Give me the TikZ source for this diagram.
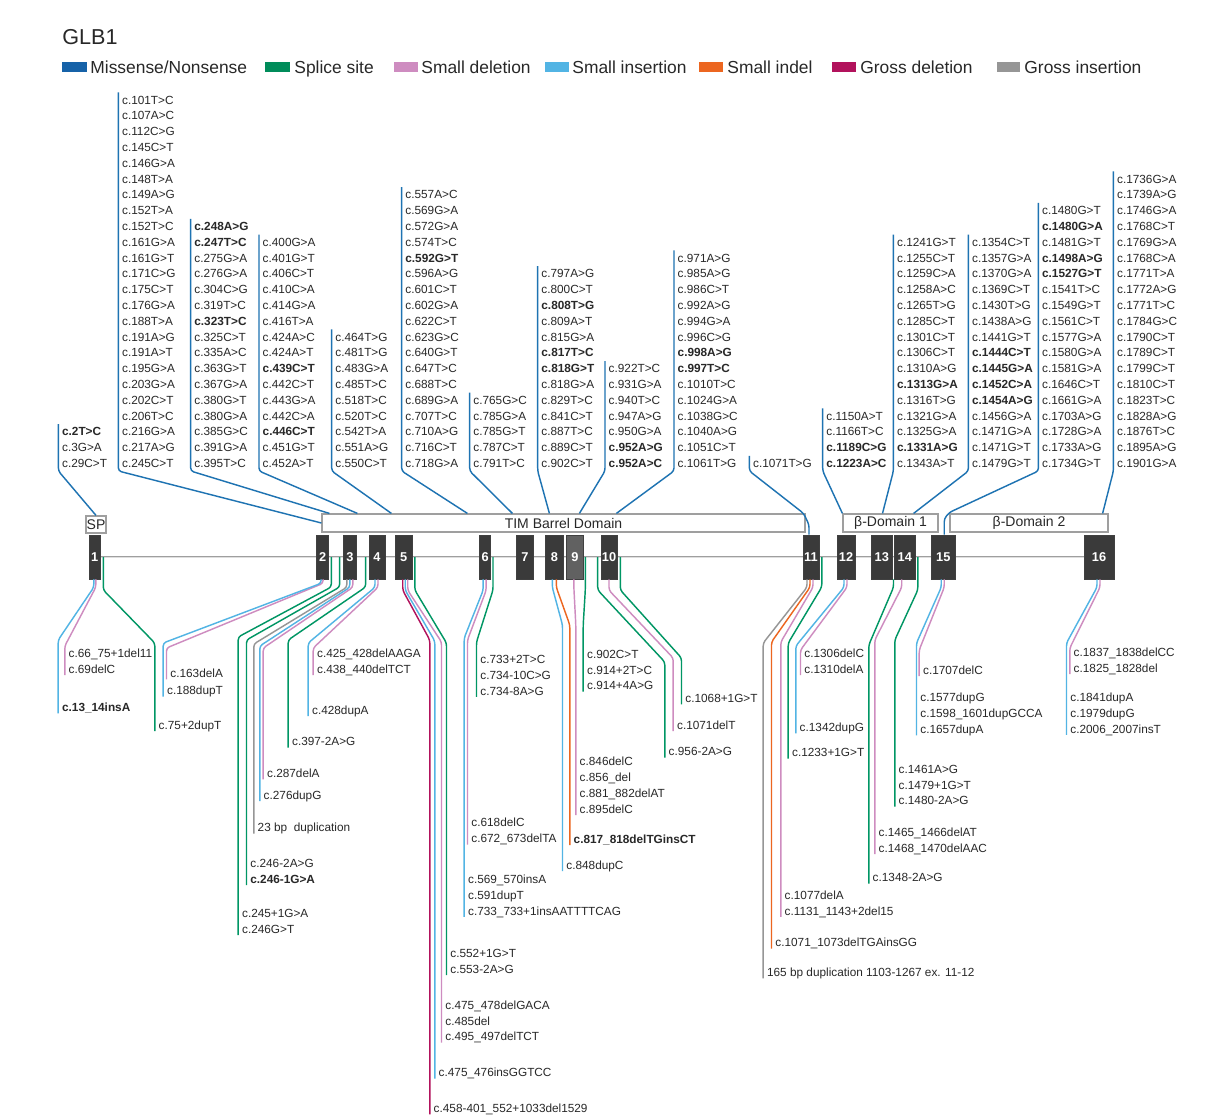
\documentclass[tikz,border=0pt]{standalone}
\usepackage{fontspec}
\setmainfont{Liberation Sans}
\usetikzlibrary{calc}
\definecolor{miss}{RGB}{30,115,178}
\definecolor{missL}{RGB}{22,98,168}
\definecolor{splice}{RGB}{0,150,100}
\definecolor{spliceL}{RGB}{0,140,90}
\definecolor{sdel}{RGB}{206,140,192}
\definecolor{sins}{RGB}{82,180,228}
\definecolor{sindel}{RGB}{236,102,32}
\definecolor{gdel}{RGB}{178,18,92}
\definecolor{gins}{RGB}{150,150,150}
\definecolor{exfill}{RGB}{58,58,58}
\definecolor{txt}{RGB}{40,40,40}

\newcommand\topcol[4]{%
  \foreach \mytext [count=\i] in {#4} {\node[lbl] (#1\i) at (#2,{467.5-(#3-\i)*15.8}) {\mytext};}
  \coordinate (#1t) at (#2-3.3,{463.3-(#3-1)*15.8-7.5});
  \coordinate (#1b) at (#2-3.3,471);
}
\newcommand\botcol[9]{%
  \foreach \mytext [count=\i] in {#9} {\node[lbl] (#1\i) at (#3,{#4+4.2+(\i-1)*15.8}) {\mytext};}
  \coordinate (#1s) at #6;
  \coordinate (#1k) at (#3-3.5,#8);
  \coordinate (#1e) at (#3-3.5,{#4+(#5-1)*15.8+6});
  \draw[conn,#2] (#1s) -- ++(0,#7) -- (#1k) -- (#1e);
}
\newcommand\exon[4][]{\node[exon,#1,minimum width={(#4-#3)*0.5pt}] (e#2) at ({(#3+#4)/2},557) {#2};}

\begin{document}
\begin{tikzpicture}[x=0.5pt,y=-0.5pt,
  lbl/.style={anchor=base west, inner sep=0pt, text=txt, font=\fontsize{5.9}{7}\selectfont},
  leg/.style={anchor=base west, inner sep=0pt, text=txt, font=\fontsize{8.7}{10}\selectfont},
  swatch/.style={inner sep=0pt, minimum height=5pt},
  conn/.style={line width=0.72pt, rounded corners=1.5pt},
  exon/.style={fill=exfill, draw=black!75, line width=0.3pt, text=white, inner sep=0pt, minimum height=22pt, font=\bfseries\fontsize{6.4}{7}\selectfont},
  dom/.style={draw=gray!75, fill=white, line width=0.6pt, inner sep=0pt, minimum height=9pt, text=txt, font=\fontsize{7}{8}\selectfont},
  intron/.style={draw=gray!75, line width=0.35pt, double=gray!25, double distance=0.45pt}
]
\useasboundingbox (0,0) rectangle (1208,1117);
\fill[white] (0,0) rectangle (1208,1117);

% title and legend
\node[anchor=base west, inner sep=0pt, text=txt, font=\fontsize{10.8}{12}\selectfont] (title) at (62,44.7) {GLB1};
\node[swatch, fill=missL, minimum width=12.5pt] (s1) at (74.5,67) {};
\node[leg] (l1) at (90,73.2) {Missense/Nonsense};
\node[swatch, fill=spliceL, minimum width=12.5pt] (s2) at (277.5,67) {};
\node[leg] (l2) at (294,73.2) {Splice site};
\node[swatch, fill=sdel, minimum width=12pt] (s3) at (406,67) {};
\node[leg] (l3) at (421,73.2) {Small deletion};
\node[swatch, fill=sins, minimum width=12pt] (s4) at (557,67) {};
\node[leg] (l4) at (572,73.2) {Small insertion};
\node[swatch, fill=sindel, minimum width=12pt] (s5) at (711,67) {};
\node[leg] (l5) at (727,73.2) {Small indel};
\node[swatch, fill=gdel, minimum width=12pt] (s6) at (844,67) {};
\node[leg] (l6) at (860,73.2) {Gross deletion};
\node[swatch, fill=gins, minimum width=11.5pt] (s7) at (1008.5,67) {};
\node[leg] (l7) at (1024,73.2) {Gross insertion};

% gene
\coordinate (i0) at (95,557);
\coordinate (i1) at (1099,557);
\draw[intron] (i0) -- (i1);
\exon{1}{89.6}{100}
\exon{2}{316.7}{328.5}
\exon{3}{343}{356.7}
\exon{4}{369}{385}
\exon{5}{395.5}{412}
\exon{6}{479.6}{490.7}
\exon{7}{516.7}{533}
\exon{8}{545.6}{563}
\exon[fill=exfill!80!white]{9}{566.7}{583}
\exon{10}{601}{617}
\exon{11}{803}{819}
\exon{12}{837}{855}
\exon{13}{871.6}{892}
\exon{14}{894.5}{915}
\exon{15}{931.5}{955}
\exon{16}{1084}{1114}

% domains
\node[dom, minimum width=241.5pt] (tim) at (563.5,523) {TIM Barrel Domain};
\node[dom, minimum width=47.5pt] (b1) at (890.5,523) {β-Domain 1};
\node[dom, minimum width=79pt] (b2) at (1029,523) {β-Domain 2};
\node[dom, minimum width=10pt, minimum height=8.5pt] (SP) at (96,524.5) {SP};

% top columns (missense / nonsense)
\topcol{A}{61.7}{3}{\textbf{c.2T>C}, c.3G>A, c.29C>T}
\topcol{B}{121.7}{24}{c.101T>C, c.107A>C, c.112C>G, c.145C>T, c.146G>A, c.148T>A, c.149A>G, c.152T>A, c.152T>C, c.161G>A, c.161G>T, c.171C>G, c.175C>T, c.176G>A, c.188T>A, c.191A>G, c.191A>T, c.195G>A, c.203G>A, c.202C>T, c.206T>C, c.216G>A, c.217A>G, c.245C>T}
\topcol{C}{194}{16}{\textbf{c.248A>G}, \textbf{c.247T>C}, c.275G>A, c.276G>A, c.304C>G, c.319T>C, \textbf{c.323T>C}, c.325C>T, c.335A>C, c.363G>T, c.367G>A, c.380G>T, c.380G>A, c.385G>C, c.391G>A, c.395T>C}
\topcol{D}{262.3}{15}{c.400G>A, c.401G>T, c.406C>T, c.410C>A, c.414G>A, c.416T>A, c.424A>C, c.424A>T, \textbf{c.439C>T}, c.442C>T, c.443G>A, c.442C>A, \textbf{c.446C>T}, c.451G>T, c.452A>T}
\topcol{E}{335}{9}{c.464T>G, c.481T>G, c.483G>A, c.485T>C, c.518T>C, c.520T>C, c.542T>A, c.551A>G, c.550C>T}
\topcol{F}{405}{18}{c.557A>C, c.569G>A, c.572G>A, c.574T>C, \textbf{c.592G>T}, c.596A>G, c.601C>T, c.602G>A, c.622C>T, c.623G>C, c.640G>T, c.647T>C, c.688T>C, c.689G>A, c.707T>C, c.710A>G, c.716C>T, c.718G>A}
\topcol{G}{473}{5}{c.765G>C, c.785G>A, c.785G>T, c.787C>T, c.791T>C}
\topcol{H}{541}{13}{c.797A>G, c.800C>T, \textbf{c.808T>G}, c.809A>T, c.815G>A, \textbf{c.817T>C}, \textbf{c.818G>T}, c.818G>A, c.829T>C, c.841C>T, c.887T>C, c.889C>T, c.902C>T}
\topcol{I}{608.3}{7}{c.922T>C, c.931G>A, c.940T>C, c.947A>G, c.950G>A, \textbf{c.952A>G}, \textbf{c.952A>C}}
\topcol{J}{677.3}{14}{c.971A>G, c.985A>G, c.986C>T, c.992A>G, c.994G>A, c.996C>G, \textbf{c.998A>G}, \textbf{c.997T>C}, c.1010T>C, c.1024G>A, c.1038G>C, c.1040A>G, c.1051C>T, c.1061T>G}
\topcol{K}{752.7}{1}{c.1071T>G}
\topcol{L}{826}{4}{c.1150A>T, c.1166T>C, \textbf{c.1189C>G}, \textbf{c.1223A>C}}
\topcol{M}{896.7}{15}{c.1241G>T, c.1255C>T, c.1259C>A, c.1258A>C, c.1265T>G, c.1285C>T, c.1301C>T, c.1306C>T, c.1310A>G, \textbf{c.1313G>A}, c.1316T>G, c.1321G>A, c.1325G>A, \textbf{c.1331A>G}, c.1343A>T}
\topcol{N}{971.7}{15}{c.1354C>T, c.1357G>A, c.1370G>A, c.1369C>T, c.1430T>G, c.1438A>G, c.1441G>T, \textbf{c.1444C>T}, \textbf{c.1445G>A}, \textbf{c.1452C>A}, \textbf{c.1454A>G}, c.1456G>A, c.1471G>A, c.1471G>T, c.1479G>T}
\topcol{O}{1041.7}{17}{c.1480G>T, \textbf{c.1480G>A}, c.1481G>T, \textbf{c.1498A>G}, \textbf{c.1527G>T}, c.1541T>C, c.1549G>T, c.1561C>T, c.1577G>A, c.1580G>A, c.1581G>A, c.1646C>T, c.1661G>A, c.1703A>G, c.1728G>A, c.1733A>G, c.1734G>T}
\topcol{P}{1116.7}{19}{c.1736G>A, c.1739A>G, c.1746G>A, c.1768C>T, c.1769G>A, c.1768C>A, c.1771T>A, c.1772A>G, c.1771T>C, c.1784G>C, c.1790C>T, c.1789C>T, c.1799C>T, c.1810C>T, c.1823T>C, c.1828A>G, c.1876T>C, c.1895A>G, c.1901G>A}

\draw[conn,miss] (At) -- (Ab) -- (SP.north);
\draw[conn,miss] (Bt) -- (Bb) -- (tim.west);
\draw[conn,miss] (Ct) -- (Cb) -- ($(tim.north west)+(8,0)$);
\draw[conn,miss] (Dt) -- (Db) -- ($(tim.north west)+(36,0)$);
\draw[conn,miss] (Et) -- (Eb) -- ($(tim.north west)+(70,0)$);
\draw[conn,miss] (Ft) -- (Fb) -- ($(tim.north west)+(146,0)$);
\draw[conn,miss] (Gt) -- (Gb) -- ($(tim.north west)+(191,0)$);
\draw[conn,miss] (Ht) -- (Hb) -- ($(tim.north west)+(228,0)$);
\draw[conn,miss] (It) -- (Ib) -- ($(tim.north west)+(258,0)$);
\draw[conn,miss] (Jt) -- (Jb) -- ($(tim.north west)+(295,0)$);
\draw[conn,miss] (Kt) -- (Kb) -- ($(tim.north east)+(-2,0)$) -- ($(e11.north)+(-2,-10)$) -- ($(e11.north)+(-2,0)$);
\draw[conn,miss] (Lt) -- (Lb) -- (b1.north west);
\draw[conn,miss] (Mt) -- (Mb) -- ($(b1.north)+(-8,0)$);
\draw[conn,miss] (Nt) -- (Nb) -- ($(b1.north east)+(-25,0)$);
\draw[conn,miss] (Ot) -- (Ob) -- ($(b2.north west)+(0,-1)$) -- ($(e15.north)+(1,-16)$) -- ($(e15.north)+(1,0)$);
\draw[conn,miss] (Pt) -- (Pb) -- ($(b2.north east)+(-6,0)$);

% bottom columns
\botcol{ba}{sdel}{68.3}{653.3}{2}{($(e1.south)+(1,0)$)}{8}{646}{c.66\_75+1del11, c.69delC}
\botcol{bb}{sins}{61.7}{707.3}{1}{($(e1.south)+(-1,0)$)}{8}{640}{\textbf{c.13\_14insA}}
\botcol{bc}{splice}{158.3}{725}{1}{($(e1.east)+(3,0)$)}{33}{643}{c.75+2dupT}
\botcol{bd}{sdel}{170}{673.3}{1}{($(e2.south)+(0.5,0)$)}{4}{648}{c.163delA}
\botcol{be}{sins}{166.7}{690.7}{1}{($(e2.south)+(-1.5,0)$)}{4}{643}{c.188dupT}
\botcol{bf}{splice}{241.7}{913.3}{2}{($(e2.east)+(2.5,0)$)}{30}{637}{c.245+1G>A, c.246G>T}
\botcol{bg}{splice}{250}{863.3}{2}{($(e3.west)+(-3,0)$)}{30}{640}{c.246-2A>G, \textbf{c.246-1G>A}}
\botcol{bh}{gins}{257.3}{827.7}{1}{($(e3.south)+(-3,0)$)}{8}{644}{23 bp\ \ duplication}
\botcol{bi}{sins}{263.3}{795}{1}{($(e3.south)+(0,0)$)}{8}{646}{c.276dupG}
\botcol{bj}{sdel}{266.7}{773.3}{1}{($(e3.south)+(3,0)$)}{8}{648}{c.287delA}
\botcol{bk}{splice}{291.7}{741.7}{1}{($(e4.west)+(-3,0)$)}{30}{640}{c.397-2A>G}
\botcol{bl}{sins}{311.7}{710}{1}{($(e4.south)+(-2,0)$)}{8}{643}{c.428dupA}
\botcol{bm}{sdel}{316.7}{653.3}{2}{($(e4.south)+(1,0)$)}{8}{648}{c.425\_428delAAGA, c.438\_440delTCT}
\botcol{bn}{gdel}{433.3}{1108.3}{1}{($(e5.south)+(-1,0)$)}{11}{640}{c.458-401\_552+1033del1529}
\botcol{bo}{sins}{438.3}{1072.7}{1}{($(e5.south)+(1.5,0)$)}{11}{641}{c.475\_476insGGTCC}
\botcol{bp}{sdel}{445}{1005}{3}{($(e5.south)+(4,0)$)}{11}{642}{c.475\_478delGACA, c.485del, c.495\_497delTCT}
\botcol{bq}{splice}{450}{953.3}{2}{($(e5.east)+(2.5,0)$)}{33}{643}{c.552+1G>T, c.553-2A>G}
\botcol{br}{sins}{467.7}{879.3}{3}{($(e6.south)+(-2,0)$)}{11}{638}{c.569\_570insA, c.591dupT, c.733\_733+1insAATTTTCAG}
\botcol{bs}{sdel}{471}{822.7}{2}{($(e6.south)+(1,0)$)}{11}{640}{c.618delC, c.672\_673delTA}
\botcol{bt}{splice}{480}{659.3}{3}{($(e6.east)+(2,0)$)}{33}{642}{c.733+2T>C, c.734-10C>G, c.734-8A>G}
\botcol{bu}{sins}{566}{865}{1}{($(e8.south)+(-2,0)$)}{8}{625}{c.848dupC}
\botcol{bv}{sindel}{573.3}{839}{1}{($(e8.south)+(2,0)$)}{8}{625}{\textbf{c.817\_818delTGinsCT}}
\botcol{bw}{sdel}{579.3}{761.7}{4}{($(e9.south)+(-1,0)$)}{8}{625}{c.846delC, c.856\_del, c.881\_882delAT, c.895delC}
\botcol{bx}{splice}{586.7}{654}{3}{($(e9.east)+(2,0)$)}{33}{625}{c.902C>T, c.914+2T>C, c.914+4A>G}
\botcol{by}{splice}{668.3}{751.7}{1}{($(e10.west)+(-3,0)$)}{33}{662}{c.956-2A>G}
\botcol{bz}{sdel}{676.7}{725}{1}{($(e10.south)+(0,0)$)}{11}{658}{c.1071delT}
\botcol{ca}{splice}{685}{698.3}{1}{($(e10.east)+(3,0)$)}{33}{658}{c.1068+1G>T}
\botcol{cb}{gins}{766.7}{972.3}{1}{($(e11.south)+(-4,0)$)}{8}{643}{165 bp duplication 1103-1267 ex. 11-12}
\botcol{cc}{sindel}{775}{942.7}{1}{($(e11.south)+(-1,0)$)}{8}{642}{c.1071\_1073delTGAinsGG}
\botcol{cd}{sdel}{784.3}{895}{2}{($(e11.south)+(2,0)$)}{8}{642}{c.1077delA, c.1131\_1143+2del15}
\botcol{ce}{splice}{791.7}{752.7}{1}{($(e11.east)+(2.5,0)$)}{30}{643}{c.1233+1G>T}
\botcol{cf}{sins}{799.3}{727.3}{1}{($(e12.south)+(-2,0)$)}{8}{646}{c.1342dupG}
\botcol{cg}{sdel}{804}{653.3}{2}{($(e12.south)+(1,0)$)}{8}{650}{c.1306delC, c.1310delA}
\botcol{ch}{splice}{872.3}{877.7}{1}{($(e13.south east)+(1.2,0)$)}{8}{645}{c.1348-2A>G}
\botcol{ci}{sdel}{878.3}{832.3}{2}{($(e14.south)+(-3,0)$)}{8}{640}{c.1465\_1466delAT, c.1468\_1470delAAC}
\botcol{cj}{splice}{898.3}{769}{3}{($(e14.east)+(2.5,0)$)}{33}{640}{c.1461A>G, c.1479+1G>T, c.1480-2A>G}
\botcol{ck}{sins}{920}{697.7}{3}{($(e15.south)+(-2,0)$)}{8}{643}{c.1577dupG, c.1598\_1601dupGCCA, c.1657dupA}
\botcol{cl}{sdel}{922.7}{670}{1}{($(e15.south)+(1,0)$)}{8}{650}{c.1707delC}
\botcol{cm}{sins}{1070}{697.3}{3}{($(e16.south)+(-2,0)$)}{8}{643}{c.1841dupA, c.1979dupG, c.2006\_2007insT}
\botcol{cn}{sdel}{1073.3}{652.3}{2}{($(e16.south)+(1,0)$)}{8}{648}{c.1837\_1838delCC, c.1825\_1828del}
\end{tikzpicture}
\end{document}
